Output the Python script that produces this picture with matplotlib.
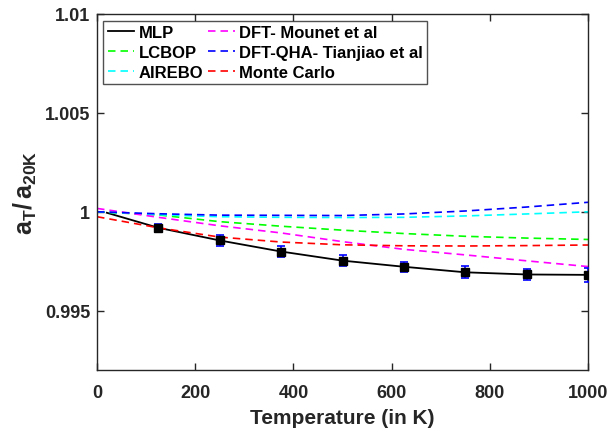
import matplotlib
matplotlib.use("Agg")
import matplotlib.pyplot as plt
from matplotlib.ticker import FuncFormatter

plt.rcParams['font.family'] = ['Liberation Sans', 'DejaVu Sans']
plt.rcParams['font.weight'] = 'bold'
plt.rcParams['mathtext.fontset'] = 'custom'
plt.rcParams['mathtext.rm'] = 'Liberation Sans:bold'
plt.rcParams['mathtext.bf'] = 'Liberation Sans:bold'
plt.rcParams['mathtext.it'] = 'Liberation Sans:bold'

INK = '#262626'

# MLP results with error bars
mlp_T = [125, 250, 375, 500, 625, 750, 875, 1000]
mlp_val = [0.99919, 0.99855, 0.99799, 0.99753, 0.99722, 0.99694, 0.99683, 0.99681]
mlp_err = [0.00020, 0.00028, 0.00027, 0.00027, 0.00024, 0.00031, 0.00029, 0.00036]
mlp_line_T = [20] + mlp_T
mlp_line_val = [0.99995] + mlp_val

# reference curves
ref_T = [0, 125, 250, 375, 500, 625, 750, 875, 1000]
lcbop = [1.00000, 0.99984, 0.99950, 0.99927, 0.99907, 0.99890, 0.99876, 0.99867, 0.99860]
airebo = [1.00000, 0.99985, 0.99975, 0.99972, 0.99971, 0.99972, 0.99979, 0.99989, 1.00000]
mounet = [1.00017, 0.99972, 0.99929, 0.99893, 0.99849, 0.99810, 0.99782, 0.99752, 0.99723]
tianjiao = [1.00000, 0.99990, 0.99983, 0.99982, 0.99981, 0.99989, 1.00004, 1.00024, 1.00048]
monte_carlo = [0.99975, 0.99919, 0.99872, 0.99847, 0.99833, 0.99828, 0.99827, 0.99829, 0.99832]

fig = plt.figure(figsize=(6.11, 4.31), dpi=100)
ax = fig.add_axes([0.1588, 0.1392, 0.8036, 0.826])

dash = (0, (4.5, 3))
h_mlp, = ax.plot(mlp_line_T, mlp_line_val, color='black', lw=1.3, label='MLP')
h_lc, = ax.plot(ref_T, lcbop, color='#00ff00', lw=1.2, ls=dash, label='LCBOP')
h_ai, = ax.plot(ref_T, airebo, color='#00ffff', lw=1.2, ls=dash, label='AIREBO')
h_mo, = ax.plot(ref_T, mounet, color='#ff00ff', lw=1.2, ls=dash, label='DFT- Mounet et al')
h_tj, = ax.plot(ref_T, tianjiao, color='#0000ff', lw=1.2, ls=dash, label='DFT-QHA- Tianjiao et al')
h_mc, = ax.plot(ref_T, monte_carlo, color='#ff0000', lw=1.2, ls=dash, label='Monte Carlo')
ax.errorbar(mlp_T, mlp_val, yerr=mlp_err, fmt='none', ecolor='#0000ff',
            elinewidth=1.2, capsize=3, capthick=1.2, zorder=4)
ax.plot(mlp_T, mlp_val, 's', color='black', ms=5.5, zorder=5)

ax.set_xlim(0, 1000)
ax.set_ylim(0.992, 1.01)
ax.set_xticks([0, 200, 400, 600, 800, 1000])
ax.set_yticks([0.995, 1.0, 1.005, 1.01])
ax.yaxis.set_major_formatter(FuncFormatter(lambda v, p: '%g' % round(v, 4)))
ax.tick_params(direction='in', top=True, right=True, length=5, width=1,
               colors=INK, labelsize=13)
ax.tick_params(axis='x', pad=10)
ax.tick_params(axis='y', pad=5)
for lab in ax.get_xticklabels() + ax.get_yticklabels():
    lab.set_fontweight('bold')
for s in ax.spines.values():
    s.set_color(INK)
    s.set_linewidth(1)

ax.set_xlabel('Temperature (in K)', fontsize=15, fontweight='bold', color=INK, labelpad=5)
ax.set_ylabel(r'$\mathbf{a_T/\,a_{20K}}$', fontsize=18, color=INK, labelpad=4)

leg = ax.legend(handles=[h_mlp, h_lc, h_ai, h_mo, h_tj, h_mc], ncol=2,
                loc='upper left', bbox_to_anchor=(0.013, 0.981), fontsize=12,
                frameon=True, fancybox=False, handlelength=1.6, handletextpad=0.25,
                columnspacing=0.3, labelspacing=0.3, borderpad=0.25, borderaxespad=0)
leg.get_frame().set_edgecolor(INK)
leg.get_frame().set_linewidth(1)
for t in leg.get_texts():
    t.set_fontweight('bold')

fig.savefig('out.png', dpi=100)
